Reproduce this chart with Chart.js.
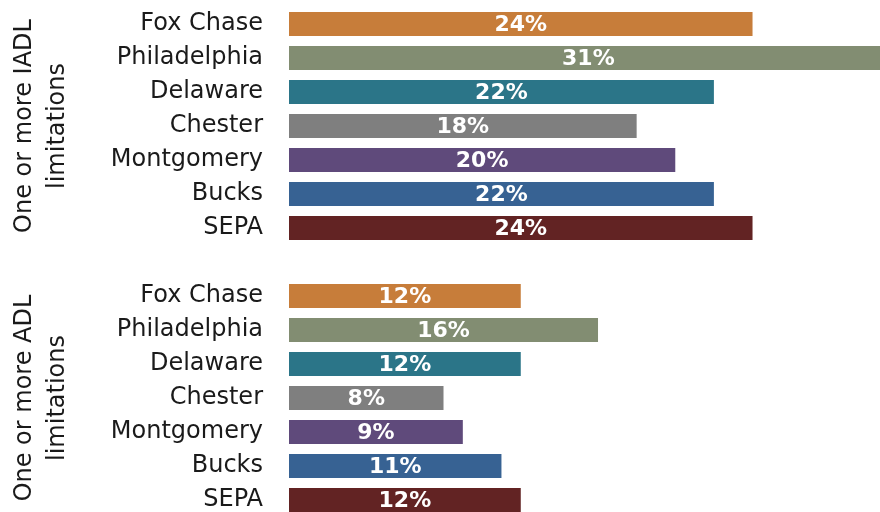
<!DOCTYPE html>
<html>
<head>
<meta charset="utf-8">
<script src="https://cdn.jsdelivr.net/npm/chart.js@4"></script>
<style>
  html, body { margin: 0; padding: 0; background: #fff; overflow: hidden; }
  canvas { display: block; }
</style>
</head>
<body>
<canvas id="myChart" width="880" height="517" style="width:880px;height:517px"></canvas>
<script>
// values
var counties = ['Fox Chase', 'Philadelphia', 'Delaware', 'Chester', 'Montgomery', 'Bucks', 'SEPA'];
var iadlValues = [24, 31, 22, 18, 20, 22, 24];
var adlValues = [12, 16, 12, 8, 9, 11, 12];
var groupTitles = [['One or more IADL', 'limitations'], ['One or more ADL', 'limitations']];
var barColors = ['#C77D3A', '#828D72', '#2B7588', '#7F7F7F', '#5F4A7B', '#376293', '#622323'];

var fontName = "'DejaVu Sans', sans-serif";

var labels = counties.concat([''], counties);
var values = iadlValues.concat([null], adlValues);
var colors = barColors.concat(['#ffffff'], barColors);

var barLabels = {
    id: 'barLabels',
    afterDatasetsDraw: function(chart) {
        var ctx = chart.ctx;
        var meta = chart.getDatasetMeta(0);
        ctx.save();
        ctx.fillStyle = '#ffffff';
        ctx.font = 'bold 22px ' + fontName;
        ctx.textAlign = 'center';
        ctx.textBaseline = 'middle';
        meta.data.forEach(function(bar, i) {
            if (values[i] == null) return;
            ctx.fillText(values[i] + '%', (bar.x + bar.base) / 2, bar.y + 1);
        });
        ctx.restore();
    }
};

var groupLabels = {
    id: 'groupLabels',
    afterDraw: function(chart) {
        var ctx = chart.ctx;
        var y = chart.scales.y;
        ctx.save();
        ctx.fillStyle = '#1a1a1a';
        ctx.font = '24px ' + fontName;
        ctx.textAlign = 'center';
        ctx.textBaseline = 'middle';
        groupTitles.forEach(function(lines, g) {
            var first = g * 8, last = g * 8 + 6;
            var cy = (y.getPixelForValue(first) + y.getPixelForValue(last)) / 2;
            ctx.save();
            ctx.translate(0, cy);
            ctx.rotate(-Math.PI / 2);
            ctx.fillText(lines[0], 0, 25);
            ctx.fillText(lines[1], 0, 58);
            ctx.restore();
        });
        ctx.restore();
    }
};

new Chart('myChart', {
    type: 'bar',
    data: {
        labels: labels,
        datasets: [{
            data: values,
            backgroundColor: colors,
            barPercentage: 0.7,
            categoryPercentage: 1.0
        }]
    },
    options: {
        indexAxis: 'y',
        responsive: false,
        animation: false,
        layout: { padding: { top: 7, right: 0, bottom: 0, left: 0 } },
        plugins: {
            legend: { display: false },
            tooltip: { enabled: false }
        },
        scales: {
            x: {
                min: 0,
                max: 30.6,
                display: false
            },
            y: {
                grid: { display: false, drawTicks: false },
                border: { display: false },
                ticks: {
                    color: '#1a1a1a',
                    font: { family: fontName, size: 24 },
                    padding: 26,
                    autoSkip: false
                },
                afterFit: function(scale) {
                    scale.width = 289;
                    scale.paddingTop = 0;
                    scale.paddingBottom = 0;
                }
            }
        }
    },
    plugins: [barLabels, groupLabels]
});
</script>
</body>
</html>
